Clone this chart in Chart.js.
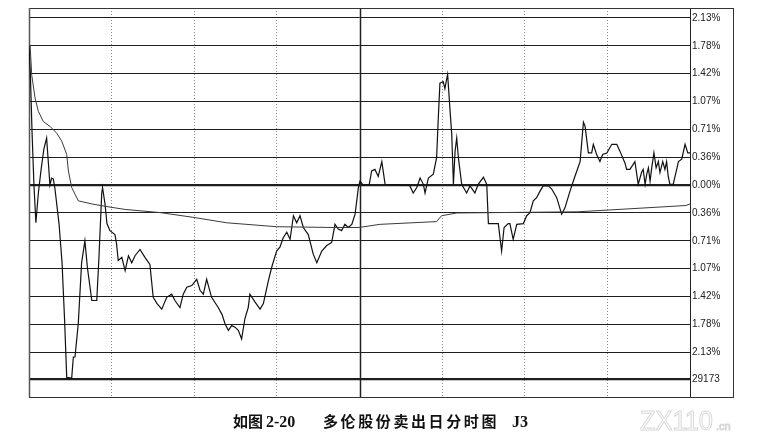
<!DOCTYPE html>
<html>
<head>
<meta charset="utf-8">
<script src="https://cdn.jsdelivr.net/npm/chart.js@4.4.0/dist/chart.umd.min.js"></script>
<style>
  html, body { margin: 0; padding: 0; background: #fff; }
  #wrap { width: 764px; height: 447px; }
</style>
</head>
<body>
<div id="wrap"><canvas id="chart" width="764" height="447"></canvas></div>
<script>
// minutes since 9:30, lunch break removed (0..240), values in % vs. previous close
const priceMinutes = [
  0, 0.5, 1.1, 1.8, 2.5, 3.4, 4.4, 5.4, 6.4, 7.0, 7.6, 8.2, 8.8, 9.4, 10.9, 12.0, 12.9, 13.7, 15.5, 16.1,
  16.7, 17.9, 19.1, 20.3, 21.2, 22.8, 24.6, 25.4, 26.4, 26.7, 27.6, 28.3, 29.4, 31.2, 31.8, 32.4, 33.7, 34.9, 36.1, 37.3,
  38.5, 40.3, 42.1, 43.9, 45.1, 46.5, 48.2, 50.0, 51.8, 53.0, 54.8, 56.0, 57.3, 59.1, 60.9, 62.1, 63.3, 64.5, 66.3, 68.7,
  70.1, 71.2, 72.4, 73.6, 74.8, 76.0, 77.2, 78.4, 79.6, 80.2, 82.1, 83.9, 85.1, 86.9, 88.1, 89.9, 91.1, 92.3, 93.6, 94.8,
  96.0, 97.2, 98.4, 99.6, 101.4, 103.2, 104.5, 106.3, 108.1, 109.9, 111.1, 112.3, 113.5, 114.7, 115.9, 117.2, 118.4, 119.6, 120.2, 121.3,
  123.5, 124.4, 125.6, 126.8, 128.1, 129.3, 137.6, 138.3, 139.5, 140.8, 142.0, 143.2, 143.8, 145.0, 146.8, 148.0, 148.6, 149.2, 150.4, 151.0,
  151.7, 152.0, 152.9, 153.5, 154.1, 154.7, 155.3, 155.9, 157.1, 158.9, 160.1, 161.9, 163.1, 165.0, 166.2, 166.8, 170.4, 171.6, 172.5, 174.0,
  174.6, 175.8, 177.1, 179.5, 180.7, 181.9, 183.1, 184.3, 185.5, 186.7, 188.6, 189.8, 191.6, 193.4, 194.6, 196.4, 198.2, 200.1, 201.3, 201.9,
  203.1, 204.3, 204.9, 206.1, 207.3, 208.3, 209.8, 211.6, 213.4, 214.6, 216.4, 217.0, 218.2, 220.0, 221.2, 222.4, 223.0, 223.7, 224.3, 224.9,
  225.5, 226.1, 226.9, 227.7, 228.5, 229.1, 230.1, 230.9, 231.5, 232.1, 232.7, 233.9, 235.8, 237.0, 238.2, 239.2, 240
];
const priceValues = [
  1.78, 1.41, 0.68, 0.00, -0.48, -0.10, 0.20, 0.46, 0.60, 0.30, 0.00, 0.09, 0.08, -0.04, -0.49, -0.99, -1.70, -2.45, -2.46, -2.19,
  -2.19, -1.76, -0.99, -0.71, -1.05, -1.47, -1.47, -0.92, -0.11, -0.03, -0.24, -0.49, -0.58, -0.63, -0.75, -0.96, -0.92, -1.09, -0.90, -0.99,
  -0.90, -0.82, -0.92, -1.01, -1.43, -1.51, -1.58, -1.43, -1.39, -1.47, -1.56, -1.39, -1.30, -1.28, -1.20, -1.34, -1.39, -1.20, -1.43, -1.56,
  -1.65, -1.77, -1.85, -1.79, -1.81, -1.85, -1.96, -1.70, -1.56, -1.39, -1.49, -1.58, -1.51, -1.22, -1.05, -0.84, -0.79, -0.67, -0.60, -0.69,
  -0.39, -0.48, -0.39, -0.54, -0.63, -0.88, -0.99, -0.84, -0.77, -0.73, -0.50, -0.56, -0.58, -0.50, -0.54, -0.50, -0.37, -0.03, 0.05, 0.00,
  0.00, 0.18, 0.20, 0.11, 0.30, 0.01, 0.00, -0.01, -0.10, -0.03, 0.09, 0.01, -0.10, 0.09, 0.14, 0.35, 0.85, 1.30, 1.32, 1.23,
  1.36, 1.41, 0.94, 0.64, 0.01, 0.43, 0.60, 0.35, 0.01, -0.10, -0.01, -0.10, 0.01, 0.10, 0.01, -0.49, -0.49, -0.84, -0.54, -0.49,
  -0.49, -0.69, -0.50, -0.49, -0.39, -0.35, -0.20, -0.16, -0.08, -0.01, -0.01, -0.05, -0.16, -0.37, -0.29, -0.08, 0.11, 0.30, 0.80, 0.75,
  0.41, 0.41, 0.52, 0.39, 0.30, 0.39, 0.41, 0.52, 0.52, 0.43, 0.28, 0.20, 0.20, 0.30, 0.01, 0.16, 0.20, 0.01, 0.14, 0.22,
  0.05, 0.22, 0.41, 0.22, 0.30, 0.16, 0.30, 0.20, 0.30, 0.11, 0.01, 0.01, 0.30, 0.33, 0.52, 0.41, 0.41
];
const avgMinutes = [0, 0.4, 1.0, 2.2, 3.4, 5.2, 7.6, 10.1, 11.9, 13.7, 14.3, 15.5, 17.9, 22.8, 29.4, 34.9, 47.6, 59.5, 71.8, 89.9,
  110.4, 119.8, 127.4, 148.0, 149.8, 155.3, 199.3, 238.5, 240];
const avgValues = [1.78, 1.78, 1.40, 1.11, 0.94, 0.81, 0.75, 0.66, 0.56, 0.39, 0.18, -0.03, -0.20, -0.24, -0.28, -0.31, -0.35, -0.41, -0.48, -0.53,
  -0.54, -0.54, -0.50, -0.465, -0.39, -0.355, -0.34, -0.26, -0.24];

const tickValues = [2.13, 1.775, 1.42, 1.065, 0.71, 0.355, 0, -0.355, -0.71, -1.065, -1.42, -1.775, -2.13, -2.472];
const tickLabels = ['2.13%', '1.78%', '1.42%', '1.07%', '0.71%', '0.36%', '0.00%', '0.36%', '0.71%', '1.07%', '1.42%', '1.78%', '2.13%', '29173'];
const timeGrid = [0, 30, 60, 90, 120, 150, 180, 210, 240];

const toPoints = (xs, ys) => xs.map((x, i) => ({ x: x, y: ys[i] }));

// white page, outer frame, noon divider, caption and watermark
const framePlugin = {
  id: 'frame',
  beforeDraw(chart) {
    const c = chart.ctx;
    c.save();
    c.fillStyle = '#fff';
    c.fillRect(0, 0, chart.width, chart.height);
    c.restore();
  },
  beforeDatasetsDraw(chart) {
    const c = chart.ctx;
    const a = chart.chartArea;
    const xs = chart.scales.x;
    const ys = chart.scales.y;
    c.save();
    c.strokeStyle = '#222';
    c.lineWidth = 1.5;
    const noon = Math.round(xs.getPixelForValue(120)) + 0.5;
    c.beginPath();
    c.moveTo(noon, a.top);
    c.lineTo(noon, a.bottom);
    c.stroke();
    c.lineWidth = 1;
    c.strokeStyle = '#333';
    c.strokeRect(a.left + 0.5, a.top + 0.5, ys.right - a.left, a.bottom - a.top);
    c.lineWidth = 1.5;
    c.strokeStyle = '#555';
    c.beginPath();
    c.moveTo(a.left + 0.5, a.top);
    c.lineTo(a.left + 0.5, a.bottom);
    c.stroke();
    c.restore();
  },
  afterDraw(chart) {
    const c = chart.ctx;
    c.save();
    c.fillStyle = '#111';
    c.textBaseline = 'alphabetic';
    c.textAlign = 'left';
    c.font = 'bold 15px "Noto Sans CJK SC"';
    c.fillText('如图', 233, 427);
    const title = '多伦股份卖出日分时图';
    for (let i = 0; i < title.length; i++) {
      c.fillText(title[i], 323 + i * 17.6, 427);
    }
    c.font = 'bold 16px "Liberation Serif"';
    c.fillText('2-20', 266, 427);
    c.fillText('J3', 512, 427);
    // faint site watermark
    c.strokeStyle = '#d8d8d8';
    c.lineWidth = 1;
    c.font = '27px "Liberation Sans"';
    const w = c.measureText('ZX110').width;
    c.translate(640, 430);
    c.scale(73 / w, 1);
    c.strokeText('ZX110', 0, 0);
    c.setTransform(1, 0, 0, 1, 0, 0);
    c.font = '11px "Liberation Sans"';
    c.strokeText('.cn', 716, 430);
    c.restore();
  }
};

new Chart(document.getElementById('chart'), {
  type: 'line',
  data: {
    datasets: [
      {
        label: '均价',
        data: toPoints(avgMinutes, avgValues),
        borderColor: '#3a3a3a',
        borderWidth: 1,
        pointRadius: 0,
        tension: 0
      },
      {
        label: '价格',
        data: toPoints(priceMinutes, priceValues),
        borderColor: '#111',
        borderWidth: 1.2,
        pointRadius: 0,
        tension: 0
      }
    ]
  },
  options: {
    responsive: false,
    devicePixelRatio: 1,
    animation: false,
    layout: { padding: { left: 29, top: 6, right: 31, bottom: 50 } },
    plugins: {
      legend: { display: false },
      tooltip: { enabled: false },
      title: { display: false }
    },
    scales: {
      x: {
        type: 'linear',
        min: 0,
        max: 240,
        afterBuildTicks: (scale) => { scale.ticks = timeGrid.map(v => ({ value: v })); },
        ticks: { display: false },
        grid: {
          drawTicks: false,
          color: (ctx) => (ctx.tick && (ctx.tick.value % 120 === 0)) ? 'rgba(0,0,0,0)' : '#8a8a8a',
          lineWidth: 1
        },
        border: { display: false, dash: [1, 2] }
      },
      y: {
        position: 'right',
        min: -2.70,
        max: 2.257,
        afterBuildTicks: (scale) => { scale.ticks = tickValues.map(v => ({ value: v })); },
        afterFit: (scale) => { scale.width = 43; },
        ticks: {
          autoSkip: false,
          padding: 2,
          color: '#222',
          font: { family: '"Liberation Sans", Arial', size: 10 },
          callback: (v, i) => tickLabels[i]
        },
        grid: {
          drawTicks: false,
          color: '#1e1e1e',
          lineWidth: (ctx) => (ctx.tick && (ctx.tick.value === 0 || ctx.index === tickValues.length - 1)) ? 2.2 : 1
        },
        border: { display: true, color: '#222', width: 1 }
      }
    }
  },
  plugins: [framePlugin]
});
</script>
</body>
</html>
